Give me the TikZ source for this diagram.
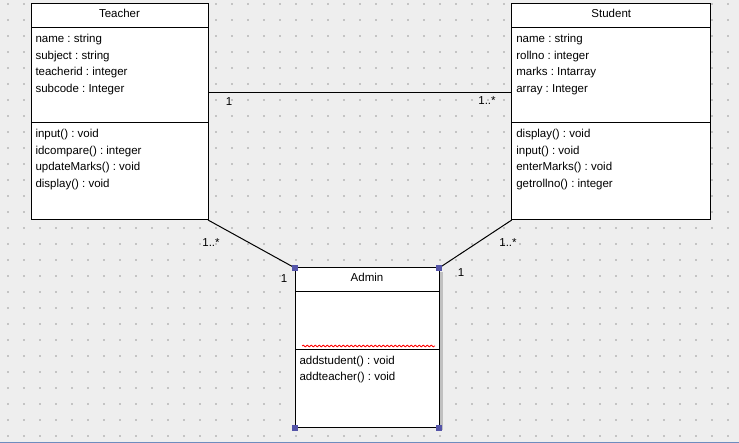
\documentclass[tikz,border=0pt]{standalone}
\usepackage{fontspec}
\setmainfont{Liberation Sans}
\usetikzlibrary{decorations.pathmorphing}
\definecolor{canvas}{RGB}{238,238,238}
\definecolor{griddot}{RGB}{196,196,196}
\definecolor{handle}{RGB}{84,84,168}
\definecolor{frameblue}{RGB}{110,140,190}
\definecolor{shadow}{RGB}{192,192,192}
\frenchspacing

\begin{document}
\begin{tikzpicture}[x=1pt, y=-1pt, line width=1pt,
  classbox/.style={draw, fill=white, rectangle, inner sep=0pt, outer sep=0pt},
  title/.style={anchor=base, inner sep=0pt, font=\fontsize{11.5}{14}\selectfont},
  member/.style={anchor=base west, inner sep=0pt, font=\fontsize{11.5}{14}\selectfont},
  mult/.style={inner sep=0pt, font=\fontsize{11.5}{14}\selectfont},
  grip/.style={fill=handle, minimum size=6.5pt, inner sep=0pt}]

  % canvas with the dotted grid
  \fill[canvas] (0,0) rectangle (739,443);
  \useasboundingbox (0,0) rectangle (739,443);
  \foreach \gx in {8,24,...,728}
    \foreach \gy in {4,20,...,436}
      \fill[griddot] (\gx-0.7,\gy-0.7) rectangle ++(1.4,1.4);
  \draw[frameblue] (0,442.5) -- (739,442.5);

  % classes
  \node[classbox, minimum width=177pt, minimum height=216pt] (teacher) at (119.5,112) {};
  \node[classbox, minimum width=199pt, minimum height=216pt] (student) at (611.3,112) {};
  \fill[shadow] (440,272) rectangle (442.5,430);
  \node[classbox, minimum width=144pt, minimum height=160pt] (admin) at (367,348) {};

  \foreach \cls/\hd/\sep in {teacher/24/119, student/24/119, admin/24/82}
    \draw ([yshift=-\hd pt]\cls.north west) -- ([yshift=-\hd pt]\cls.north east)
          ([yshift=-\sep pt]\cls.north west) -- ([yshift=-\sep pt]\cls.north east);

  \node[title] (teachername) at ([yshift=-14pt]teacher.north) {Teacher};
  \node[title] (studentname) at ([yshift=-14pt]student.north) {Student};
  \node[title] (adminname) at ([yshift=-14pt]admin.north) {Admin};

  % attributes and operations
  \foreach \txt [count=\i] in {name : string, subject : string, teacherid : integer, subcode : Integer}
    \node[member] (tatt\i) at ([xshift=4pt, yshift={-(39+16.5*(\i-1))*1pt}]teacher.north west) {\txt};
  \foreach \txt [count=\i] in {input() : void, idcompare() : integer, updateMarks() : void, display() : void}
    \node[member] (top\i) at ([xshift=4pt, yshift={-(134+16.5*(\i-1))*1pt}]teacher.north west) {\txt};
  \foreach \txt [count=\i] in {name : string, rollno : integer, marks : Intarray, array : Integer}
    \node[member] (satt\i) at ([xshift=4pt, yshift={-(39+16.5*(\i-1))*1pt}]student.north west) {\txt};
  \foreach \txt [count=\i] in {display() : void, input() : void, enterMarks() : void, getrollno() : integer}
    \node[member] (sop\i) at ([xshift=4pt, yshift={-(134+16.5*(\i-1))*1pt}]student.north west) {\txt};
  \foreach \txt [count=\i] in {addstudent() : void, addteacher() : void}
    \node[member] (aop\i) at ([xshift=4pt, yshift={-(97+16*(\i-1))*1pt}]admin.north west) {\txt};

  \draw[red, line width=0.8pt, decorate, decoration={snake, segment length=4pt, amplitude=0.9pt}]
    ([xshift=7pt, yshift=-78pt]admin.north west) -- ([xshift=-4pt, yshift=-78pt]admin.north east);

  % associations
  \draw ([yshift=19pt]teacher.east) -- ([yshift=19pt]student.west);
  \draw (teacher.south east) -- (admin.north west);
  \draw (student.south west) -- (admin.north east);

  \node[mult] (m1) at (229,102) {1};
  \node[mult] (m2) at (487,101) {1..*};
  \node[mult] (m3) at (211,243) {1..*};
  \node[mult] (m4) at (284,279) {1};
  \node[mult] (m5) at (508,243) {1..*};
  \node[mult] (m6) at (461,273) {1};

  % selection handles
  \foreach \c [count=\k] in {north west, north east, south west, south east}
    \node[grip] (grip\k) at (admin.\c) {};
\end{tikzpicture}
\end{document}
